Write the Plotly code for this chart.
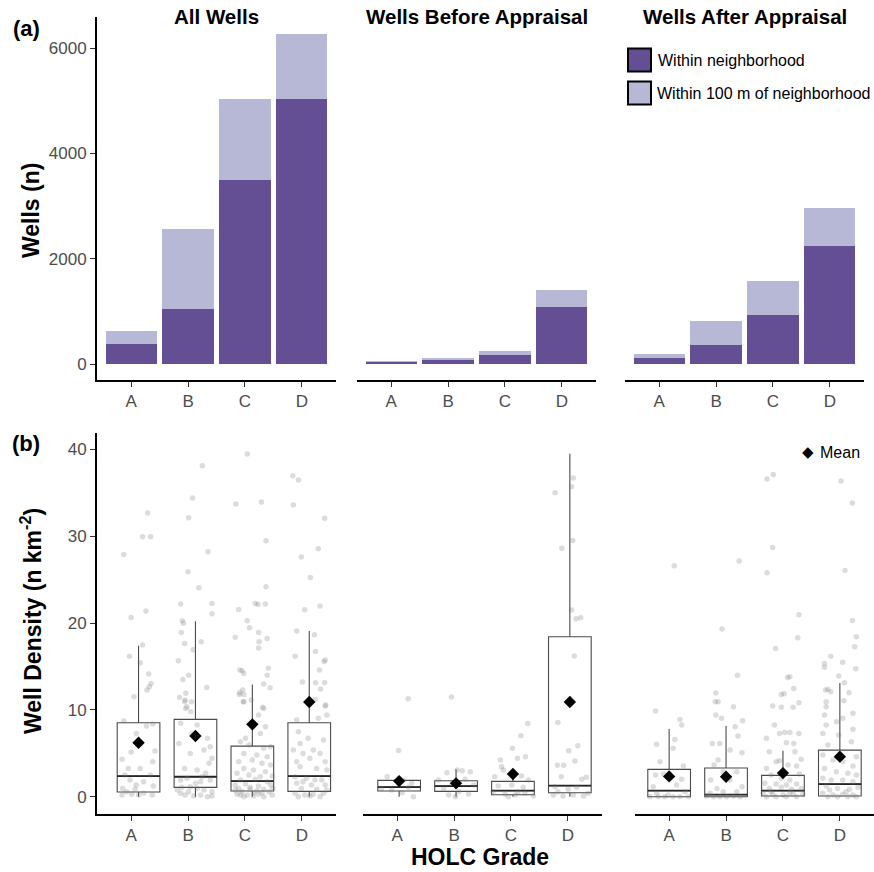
import plotly.graph_objects as go

# ---------------- data ----------------
GRADES = ["A", "B", "C", "D"]
PANELS = ["All Wells", "Wells Before Appraisal", "Wells After Appraisal"]

# (a) well counts
within_all = [380, 1046, 3492, 5032]
buffer_all = [253, 1521, 1546, 1248]
within_before = [40, 76, 171, 1077]
buffer_before = [12, 38, 76, 335]
within_after = [108, 355, 932, 2249]
buffer_after = [82, 468, 646, 723]

# (b) well density box statistics
q1_all = [0.54, 1.07, 0.65, 0.61]
med_all = [2.38, 2.30, 1.80, 2.38]
q3_all = [8.52, 8.90, 5.83, 8.52]
lo_all = [0.0, 0.0, 0.0, 0.0]
hi_all = [17.39, 20.2, 12.93, 19.07]
mean_all = [6.22, 6.99, 8.33, 10.9]

q1_before = [0.65, 0.61, 0.23, 0.46]
med_before = [1.11, 1.23, 0.69, 1.27]
q3_before = [1.88, 1.84, 1.77, 18.42]
lo_before = [0.0, 0.0, 0.0, 0.0]
hi_before = [1.95, 3.15, 2.5, 39.5]
mean_before = [1.80, 1.54, 2.61, 10.9]

q1_after = [0.0, 0.0, 0.08, 0.08]
med_after = [0.69, 0.23, 0.69, 1.46]
q3_after = [3.15, 3.30, 2.46, 5.37]
lo_after = [0.0, 0.0, 0.0, 0.0]
hi_after = [7.79, 8.14, 5.30, 13.09]
mean_after = [2.34, 2.30, 2.72, 4.61]

# (b) individual neighbourhood densities (value, jitter offset) per grade
pts_all_A = [(32.66, 0.16), (29.94, 0.07), (29.94, 0.21), (27.9, -0.26), (21.38, 0.13), (20.65, -0.13),
             (17.46, 0.07), (16.16, -0.16), (15.43, 0.03), (14.12, 0.18), (13.05, 0.22), (12.67, 0.19),
             (12.28, 0.15), (11.51, -0.08), (8.71, -0.26), (8.37, 0.25), (8.14, 0.14), (5.15, -0.13),
             (7.29, -0.04), (5.26, 0.29), (4.3, -0.29), (4.03, 0.25), (3.26, -0.18), (3.26, 0.03),
             (2.5, -0.24), (2.5, 0.21), (1.92, -0.15), (1.73, 0.09), (1.35, -0.04), (0.96, -0.28),
             (1.23, 0.26), (0.58, -0.21), (0.27, -0.12), (0.19, 0.0), (0.39, 0.09), (0.19, 0.24),
             (0.19, -0.29), (0.85, -0.06)]
pts_all_B = [(38.1, 0.12), (34.39, -0.05), (32.12, -0.12), (28.21, 0.22), (25.9, -0.13), (24.06, 0.06),
             (22.18, -0.26), (22.26, 0.29), (21.07, 0.29), (20.26, -0.23), (19.96, -0.21), (18.92, -0.25),
             (17.65, -0.19), (17.85, 0.10), (16.93, -0.04), (15.66, -0.30), (14.0, -0.12), (13.5, -0.22),
             (12.59, 0.20), (11.44, -0.28), (11.9, -0.17), (11.13, -0.18), (10.94, -0.07), (10.17, -0.17),
             (10.94, -0.19), (10.37, -0.15), (9.79, -0.08), (8.45, -0.26), (8.26, 0.03), (7.29, -0.06),
             (6.14, -0.29), (6.72, 0.21), (4.99, -0.09), (5.38, 0.15), (5.76, 0.26), (4.42, 0.29),
             (3.84, 0.24), (3.26, -0.19), (3.07, 0.03), (2.69, 0.18), (1.92, -0.26), (2.12, -0.15),
             (1.73, 0.09), (1.92, 0.26), (1.08, -0.24), (1.15, -0.09), (0.96, 0.03), (0.77, 0.15),
             (0.58, 0.29), (0.39, -0.26), (0.2, -0.18), (0.08, -0.03), (0.2, 0.09), (0.0, 0.21),
             (0.08, 0.29), (0.58, -0.12), (0.77, -0.32), (1.54, 0.0), (2.3, 0.12)]
pts_all_C = [(39.45, -0.09), (33.7, -0.29), (33.93, 0.16), (29.48, 0.24), (24.18, 0.24), (22.26, 0.05),
             (22.15, 0.10), (22.18, 0.23), (21.57, -0.24), (20.26, -0.09), (19.46, -0.05), (18.92, 0.11),
             (18.35, -0.30), (18.23, 0.26), (17.85, 0.12), (17.12, 0.11), (14.58, -0.22), (14.5, -0.18),
             (14.2, -0.15), (14.78, 0.28), (14.0, 0.26), (12.55, 0.31), (12.97, 0.20), (12.01, -0.22),
             (12.28, -0.17), (11.78, -0.15), (11.78, -0.23), (10.94, -0.16), (11.13, -0.02), (10.29, 0.18),
             (6.33, -0.21), (5.95, -0.06), (5.57, 0.2), (5.76, 0.32), (4.99, -0.15), (4.8, 0.08),
             (4.61, 0.26), (4.03, -0.24), (4.22, 0.0), (3.84, 0.17), (3.65, 0.32), (3.26, -0.15),
             (3.07, 0.02), (2.88, 0.23), (2.69, -0.27), (2.5, -0.06), (2.3, 0.14), (2.38, 0.35),
             (1.92, -0.21), (2.0, 0.05), (1.73, 0.26), (1.35, -0.3), (1.46, -0.12), (1.23, 0.11),
             (1.35, 0.32), (0.96, -0.24), (1.08, -0.04), (0.85, 0.2), (0.58, -0.18), (0.46, 0.02),
             (0.58, 0.29), (0.31, -0.27), (0.2, -0.09), (0.27, 0.11), (0.2, 0.35), (0.0, -0.15),
             (0.08, 0.02), (0.0, 0.2), (0.77, -0.3), (0.96, 0.36), (6.72, -0.12), (7.29, 0.14),
             (8.06, 0.23), (9.4, 0.11), (10.17, 0.2), (10.94, -0.15), (0.85, -0.04), (0.69, 0.08),
             (0.2, -0.21), (0.46, 0.17)]
pts_all_D = [(36.96, -0.29), (36.46, -0.19), (33.6, -0.28), (32.05, 0.27), (28.55, 0.16), (27.6, -0.14),
             (25.25, 0.02), (21.95, 0.19), (21.53, -0.08), (19.07, -0.22), (18.65, 0.09), (16.73, 0.11),
             (16.16, -0.25), (15.74, 0.28), (15.58, 0.26), (14.58, 0.18), (13.13, 0.11), (13.13, 0.27),
             (12.4, 0.2), (13.2, -0.12), (10.44, 0.28), (11.2, 0.1), (7.49, -0.19), (5.38, -0.28),
             (4.99, -0.11), (5.38, 0.07), (4.99, 0.19), (4.03, -0.22), (4.42, 0.01), (4.03, 0.28),
             (3.46, -0.16), (3.26, 0.13), (3.07, 0.31), (2.3, -0.25), (2.12, -0.05), (1.92, 0.22),
             (1.54, -0.22), (1.35, 0.04), (1.35, 0.28), (0.96, -0.14), (0.85, 0.13), (0.39, -0.25),
             (0.2, -0.08), (0.27, 0.07), (0.39, 0.25), (0.0, -0.19), (0.08, 0.01), (0.0, 0.19),
             (0.77, 0.31), (6.14, -0.16), (6.72, -0.02), (6.53, 0.25), (9.4, 0.31), (10.56, 0.29),
             (8.83, -0.22), (9.03, 0.16), (1.73, -0.11), (1.92, 0.1)]

pts_before_A = [(11.28, 0.16), (5.33, -0.01), (2.3, -0.21), (1.92, 0.08), (1.54, 0.22), (0.77, -0.13),
                (1.08, 0.16), (0.0, 0.25), (0.96, -0.31), (0.46, 0.05)]
pts_before_B = [(11.47, -0.08), (2.77, -0.16), (2.88, 0.25), (3.07, 0.02), (3.0, 0.11), (1.92, -0.31),
                (2.0, 0.16), (1.54, -0.07), (1.35, 0.31), (0.85, -0.22), (0.58, 0.05), (0.2, -0.13),
                (0.31, 0.22), (0.0, -0.01)]
pts_before_C = [(8.44, 0.26), (7.02, 0.14), (5.57, -0.01), (4.22, -0.22), (4.42, 0.08), (4.61, 0.22),
                (3.46, -0.2), (3.07, -0.17), (2.3, -0.32), (2.38, 0.15), (1.92, 0.27), (1.23, -0.26),
                (1.35, -0.02), (1.08, 0.18), (0.58, -0.35), (0.31, -0.14), (0.2, 0.04), (0.39, 0.21),
                (0.08, 0.36), (0.0, -0.08), (0.58, 0.09)]
pts_before_D = [(36.7, 0.06), (35.7, 0.03), (35.0, -0.26), (29.5, 0.05), (28.6, -0.14), (21.5, 0.03),
                (20.5, 0.11), (20.6, 0.19), (16.2, 0.08), (8.56, -0.21), (5.87, 0.14), (5.3, -0.02),
                (4.11, 0.09), (3.61, -0.22), (3.61, -0.11), (2.3, -0.15), (2.0, 0.21), (2.23, 0.29),
                (1.15, -0.26), (0.85, -0.03), (1.08, 0.12), (0.2, -0.29), (0.08, -0.12), (0.2, 0.06),
                (0.08, 0.24), (0.39, 0.32), (0.58, -0.21)]

pts_after_A = [(26.6, 0.09), (9.87, -0.24), (8.9, 0.19), (8.26, 0.22), (6.6, 0.1), (5.57, 0.07),
               (6.03, -0.22), (4.03, -0.16), (3.53, 0.25), (2.5, -0.24), (2.61, -0.1), (2.0, 0.22),
               (1.15, -0.28), (1.35, 0.13), (0.58, 0.28), (0.0, -0.34), (0.0, -0.19), (0.0, -0.08),
               (0.0, 0.07), (0.0, 0.19), (0.0, 0.34), (0.2, -0.02), (0.39, -0.22)]
pts_after_B = [(27.13, 0.23), (19.3, -0.07), (14.0, 0.2), (11.94, -0.18), (10.94, -0.14), (10.94, -0.19),
               (10.37, 0.13), (9.4, -0.18), (9.03, -0.08), (8.75, 0.29), (6.14, -0.24), (6.14, -0.11),
               (6.98, 0.21), (5.38, 0.07), (5.07, 0.28), (8.06, 0.16), (3.65, -0.21), (4.22, -0.14),
               (2.88, 0.19), (2.88, -0.05), (1.92, -0.27), (1.92, 0.07), (1.15, 0.28), (0.96, -0.16),
               (0.08, -0.34), (0.0, -0.22), (0.0, -0.11), (0.0, 0.01), (0.08, 0.13), (0.0, 0.25),
               (0.58, -0.05), (0.39, -0.28), (0.58, 0.19)]
pts_after_C = [(36.58, -0.28), (37.11, -0.17), (28.71, -0.18), (25.79, -0.28), (20.96, 0.28), (18.31, 0.26),
               (17.08, -0.13), (13.74, 0.08), (13.82, 0.12), (12.47, 0.19), (11.78, -0.03), (11.86, 0.02),
               (10.82, 0.28), (10.44, -0.18), (10.29, -0.03), (10.29, 0.18), (8.26, -0.15), (6.72, -0.29),
               (7.29, -0.06), (7.4, 0.03), (7.4, 0.12), (7.29, 0.28), (6.22, 0.06), (6.14, 0.19),
               (5.18, -0.24), (5.18, 0.21), (4.3, 0.32), (4.03, -0.12), (4.15, -0.06), (3.65, 0.09),
               (3.26, -0.29), (3.53, 0.24), (2.5, -0.21), (2.12, -0.03), (1.92, 0.12), (2.61, 0.29),
               (1.54, -0.32), (1.46, -0.12), (1.35, 0.06), (1.46, 0.24), (0.96, -0.24), (1.08, -0.03),
               (0.85, 0.15), (0.96, 0.32), (0.39, -0.35), (0.27, -0.18), (0.2, 0.0), (0.31, 0.18),
               (0.27, 0.35), (0.0, -0.29), (0.0, -0.12), (0.0, 0.06), (0.0, 0.24), (0.58, -0.21),
               (0.46, 0.12)]
pts_after_D = [(36.35, 0.02), (33.81, 0.22), (26.06, 0.09), (20.3, 0.22), (18.42, 0.29), (17.27, 0.26),
               (16.16, -0.16), (15.35, -0.27), (14.9, -0.27), (15.47, 0.05), (14.74, 0.28), (13.89, -0.02),
               (13.13, 0.08), (12.28, -0.25), (12.36, -0.21), (12.09, -0.16), (11.97, 0.16), (11.05, 0.07),
               (10.36, -0.24), (10.94, -0.24), (9.6, 0.23), (9.4, -0.27), (9.03, 0.05), (8.64, -0.06),
               (8.26, -0.24), (7.77, 0.23), (7.29, -0.3), (7.1, -0.02), (5.95, -0.21), (6.33, 0.2),
               (4.8, -0.3), (4.61, 0.29), (4.22, -0.12), (4.03, 0.05), (3.53, 0.23), (3.26, -0.27),
               (2.88, -0.06), (2.69, 0.14), (2.5, 0.29), (2.12, -0.3), (1.92, -0.15), (1.92, 0.05),
               (1.73, 0.23), (1.23, -0.24), (0.96, -0.04), (0.85, 0.17), (1.08, 0.32), (0.39, -0.3),
               (0.2, -0.12), (0.27, 0.05), (0.2, 0.23), (0.0, -0.21), (0.0, -0.04), (0.0, 0.14),
               (0.0, 0.29), (0.77, -0.18), (0.58, 0.11)]

# ---------------- styling ----------------
W, H = 874, 872
DARK = "#644e94"
LIGHT = "#b7b8d6"
FONT = "Liberation Sans, Arial, Helvetica, sans-serif"
TICK_COLOR = "#4d4d4d"
BOX_SHIFT = [0.13, 0.035, 0.0]   # horizontal dodge of the boxes in each panel


def px_x(p):
    return p / W


def px_y(p):
    return 1 - p / H


top_domains = [(97, 336), (357, 596), (625, 864)]
bot_domains = [(97, 336), (363, 602), (635, 874)]
top_y = (17, 380)
bot_y = (433, 814)

bar_within = [within_all, within_before, within_after]
bar_buffer = [buffer_all, buffer_before, buffer_after]
box_stats = [
    (q1_all, med_all, q3_all, lo_all, hi_all, mean_all),
    (q1_before, med_before, q3_before, lo_before, hi_before, mean_before),
    (q1_after, med_after, q3_after, lo_after, hi_after, mean_after),
]
points = [
    [pts_all_A, pts_all_B, pts_all_C, pts_all_D],
    [pts_before_A, pts_before_B, pts_before_C, pts_before_D],
    [pts_after_A, pts_after_B, pts_after_C, pts_after_D],
]

fig = go.Figure()
idx = list(range(len(GRADES)))

for p in range(3):
    xa = "x" if p == 0 else f"x{p + 1}"
    ya = "y" if p == 0 else f"y{p + 1}"
    fig.add_trace(go.Bar(x=idx, y=bar_within[p], marker=dict(color=DARK, line=dict(width=0)),
                         width=0.9, xaxis=xa, yaxis=ya, showlegend=False,
                         name="Within neighborhood"))
    fig.add_trace(go.Bar(x=idx, y=bar_buffer[p], marker=dict(color=LIGHT, line=dict(width=0)),
                         width=0.9, xaxis=xa, yaxis=ya, showlegend=False,
                         name="Within 100 m of neighborhood"))

for p in range(3):
    xa = f"x{p + 4}"
    ya = f"y{p + 4}"
    q1, med, q3, lo, hi, mn = box_stats[p]
    pos = [i + BOX_SHIFT[p] for i in idx]
    fig.add_trace(go.Box(x=pos, q1=q1, median=med, q3=q3, lowerfence=lo, upperfence=hi,
                         width=0.75, whiskerwidth=0, boxpoints=False,
                         line=dict(color="#4a4a4a", width=1.1), fillcolor="rgba(255,255,255,0)",
                         xaxis=xa, yaxis=ya, showlegend=False, hoverinfo="skip"))
    # thicker median line drawn as a flat box at the median
    fig.add_trace(go.Box(x=pos, q1=med, median=med, q3=med, lowerfence=med, upperfence=med,
                         width=0.75, whiskerwidth=0, boxpoints=False,
                         line=dict(color="#262626", width=1.8), fillcolor="rgba(255,255,255,0)",
                         xaxis=xa, yaxis=ya, showlegend=False, hoverinfo="skip"))
    xs, ys = [], []
    for g in idx:
        for v, j in points[p][g]:
            xs.append(g + BOX_SHIFT[p] + j)
            ys.append(v)
    fig.add_trace(go.Scatter(x=xs, y=ys, mode="markers",
                             marker=dict(size=5.5, color="rgba(120,120,120,0.26)", line=dict(width=0)),
                             xaxis=xa, yaxis=ya, showlegend=False, hoverinfo="skip"))
    fig.add_trace(go.Scatter(x=pos, y=mn, mode="markers",
                             marker=dict(symbol="diamond", size=9.5, color="black", line=dict(width=0)),
                             xaxis=xa, yaxis=ya, showlegend=False, name="Mean"))

axis_common = dict(showgrid=False, zeroline=False, linecolor="black", linewidth=2,
                   ticks="outside", ticklen=5, tickwidth=1, tickcolor="#333333",
                   tickfont=dict(family=FONT, size=17, color=TICK_COLOR))

layout = dict(width=W, height=H, margin=dict(l=0, r=0, t=0, b=0),
              paper_bgcolor="white", plot_bgcolor="white", barmode="stack",
              font=dict(family=FONT), showlegend=False)

for p in range(3):
    n = p + 1
    xk = "xaxis" if n == 1 else f"xaxis{n}"
    yk = "yaxis" if n == 1 else f"yaxis{n}"
    layout[xk] = dict(axis_common, domain=[px_x(top_domains[p][0]), px_x(top_domains[p][1])],
                      range=[-0.6, 3.6], tickvals=idx, ticktext=GRADES, showline=True,
                      anchor="y" if n == 1 else f"y{n}")
    ydict = dict(axis_common, domain=[px_y(top_y[1]), px_y(top_y[0])], range=[-304, 6594],
                 anchor="x" if n == 1 else f"x{n}", tickvals=[0, 2000, 4000, 6000])
    if p == 0:
        ydict.update(showline=True)
    else:
        ydict.update(showline=False, showticklabels=False, ticks="")
    layout[yk] = ydict

for p in range(3):
    n = p + 4
    layout[f"xaxis{n}"] = dict(axis_common, domain=[px_x(bot_domains[p][0]), px_x(bot_domains[p][1])],
                               range=[-0.6, 3.6], tickvals=idx, ticktext=GRADES, showline=True,
                               anchor=f"y{n}")
    ydict = dict(axis_common, domain=[px_y(bot_y[1]), px_y(bot_y[0])], range=[-1.99, 41.88],
                 anchor=f"x{n}", tickvals=[0, 10, 20, 30, 40])
    if p == 0:
        ydict.update(showline=True)
    else:
        ydict.update(showline=False, showticklabels=False, ticks="")
    layout[f"yaxis{n}"] = ydict

fig.update_layout(**layout)

ann = []
# panel titles
for p in range(3):
    cx = (top_domains[p][0] + top_domains[p][1]) / 2
    ann.append(dict(text=PANELS[p], x=px_x(cx), y=px_y(16), xref="paper", yref="paper",
                    showarrow=False, xanchor="center", yanchor="middle",
                    font=dict(family=FONT, size=20.5, color="black", weight="bold")))
# panel tags
ann.append(dict(text="(a)", x=px_x(26), y=px_y(28), xref="paper", yref="paper", showarrow=False,
                xanchor="center", yanchor="middle", font=dict(family=FONT, size=22, color="black", weight="bold")))
ann.append(dict(text="(b)", x=px_x(26), y=px_y(444), xref="paper", yref="paper", showarrow=False,
                xanchor="center", yanchor="middle", font=dict(family=FONT, size=22, color="black", weight="bold")))
# axis titles
ann.append(dict(text="Wells (n)", x=px_x(31), y=px_y(210), xref="paper", yref="paper", showarrow=False,
                textangle=-90, xanchor="center", yanchor="middle",
                font=dict(family=FONT, size=23, color="black", weight="bold")))
ann.append(dict(text="Well Density (n km<sup>-2</sup>)", x=px_x(31), y=px_y(621), xref="paper", yref="paper",
                showarrow=False, textangle=-90, xanchor="center", yanchor="middle",
                font=dict(family=FONT, size=23, color="black", weight="bold")))
ann.append(dict(text="HOLC Grade", x=px_x(480), y=px_y(857), xref="paper", yref="paper", showarrow=False,
                xanchor="center", yanchor="middle",
                font=dict(family=FONT, size=23, color="black", weight="bold")))
# bar legend text
ann.append(dict(text="Within neighborhood", x=px_x(656), y=px_y(60), xref="paper", yref="paper",
                showarrow=False, xanchor="left", yanchor="middle",
                font=dict(family=FONT, size=16, color="black")))
ann.append(dict(text="Within 100 m of neighborhood", x=px_x(655), y=px_y(93), xref="paper", yref="paper",
                showarrow=False, xanchor="left", yanchor="middle",
                font=dict(family=FONT, size=16, color="black")))
# mean legend
ann.append(dict(text="◆", x=px_x(808), y=px_y(452), xref="paper", yref="paper", showarrow=False,
                xanchor="center", yanchor="middle", font=dict(family="DejaVu Sans", size=15, color="black")))
ann.append(dict(text="Mean", x=px_x(818), y=px_y(452), xref="paper", yref="paper", showarrow=False,
                xanchor="left", yanchor="middle", font=dict(family=FONT, size=16, color="black")))

shapes = [
    dict(type="rect", xref="paper", yref="paper", x0=px_x(628), x1=px_x(651), y0=px_y(71.5), y1=px_y(48.5),
         fillcolor=DARK, line=dict(color="black", width=2)),
    dict(type="rect", xref="paper", yref="paper", x0=px_x(628), x1=px_x(651), y0=px_y(104.5), y1=px_y(81.5),
         fillcolor=LIGHT, line=dict(color="black", width=2)),
]
fig.update_layout(annotations=ann, shapes=shapes)

# remove the default page margin so the 874x872 figure fills the window exactly
fig.write_html("out.html", config={"displayModeBar": False},
               post_script="document.body.style.margin='0';document.body.style.overflow='hidden';")
